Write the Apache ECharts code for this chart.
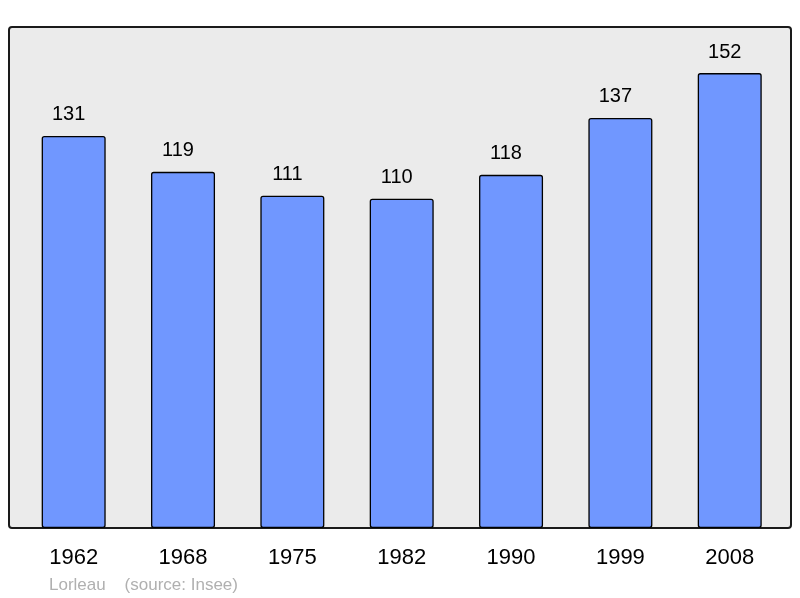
<!DOCTYPE html>
<html>
<head>
<meta charset="utf-8">
<script src="https://cdn.jsdelivr.net/npm/echarts@6/dist/echarts.min.js"></script>
<style>
  html, body { margin: 0; padding: 0; background: #fff; }
  #main { width: 800px; height: 598px; }
</style>
</head>
<body>
<div id="main"></div>
<script>
const years = ["1962", "1968", "1975", "1982", "1990", "1999", "2008"];
const population = [131, 119, 111, 110, 118, 137, 152];

const chart = echarts.init(document.getElementById('main'), null, { renderer: 'canvas' });
chart.setOption({
  animation: false,
  backgroundColor: '#ffffff',
  graphic: [
    {
      type: 'rect',
      z: -10,
      silent: true,
      shape: { x: 9, y: 27, width: 782, height: 501, r: 3 },
      style: { fill: '#ebebeb', stroke: '#1a1a1a', lineWidth: 2 }
    },
    {
      type: 'text',
      left: 49,
      top: 577,
      silent: true,
      style: {
        text: 'Lorleau    (source: Insee)',
        fill: '#b0b0b0',
        fontSize: 17,
        fontFamily: 'Liberation Sans, Arial, sans-serif'
      }
    }
  ],
  grid: { left: 19, right: 15.6, top: 27, bottom: 70, containLabel: false },
  xAxis: {
    type: 'category',
    data: years,
    axisLine: { show: false },
    axisTick: { show: false },
    axisLabel: {
      margin: 19,
      fontSize: 22,
      color: '#000',
      fontFamily: 'Liberation Sans, Arial, sans-serif'
    }
  },
  yAxis: {
    type: 'value',
    min: 0,
    max: 167.4,
    show: false,
    splitLine: { show: false }
  },
  series: [{
    type: 'bar',
    data: population,
    barWidth: 64,
    itemStyle: { color: '#7097ff', borderColor: '#000', borderWidth: 1.3, borderRadius: 2 },
    label: {
      show: true,
      position: 'top',
      distance: 11,
      offset: [-5, 0],
      fontSize: 20,
      color: '#000',
      fontFamily: 'Liberation Sans, Arial, sans-serif'
    }
  }]
});
</script>
</body>
</html>
